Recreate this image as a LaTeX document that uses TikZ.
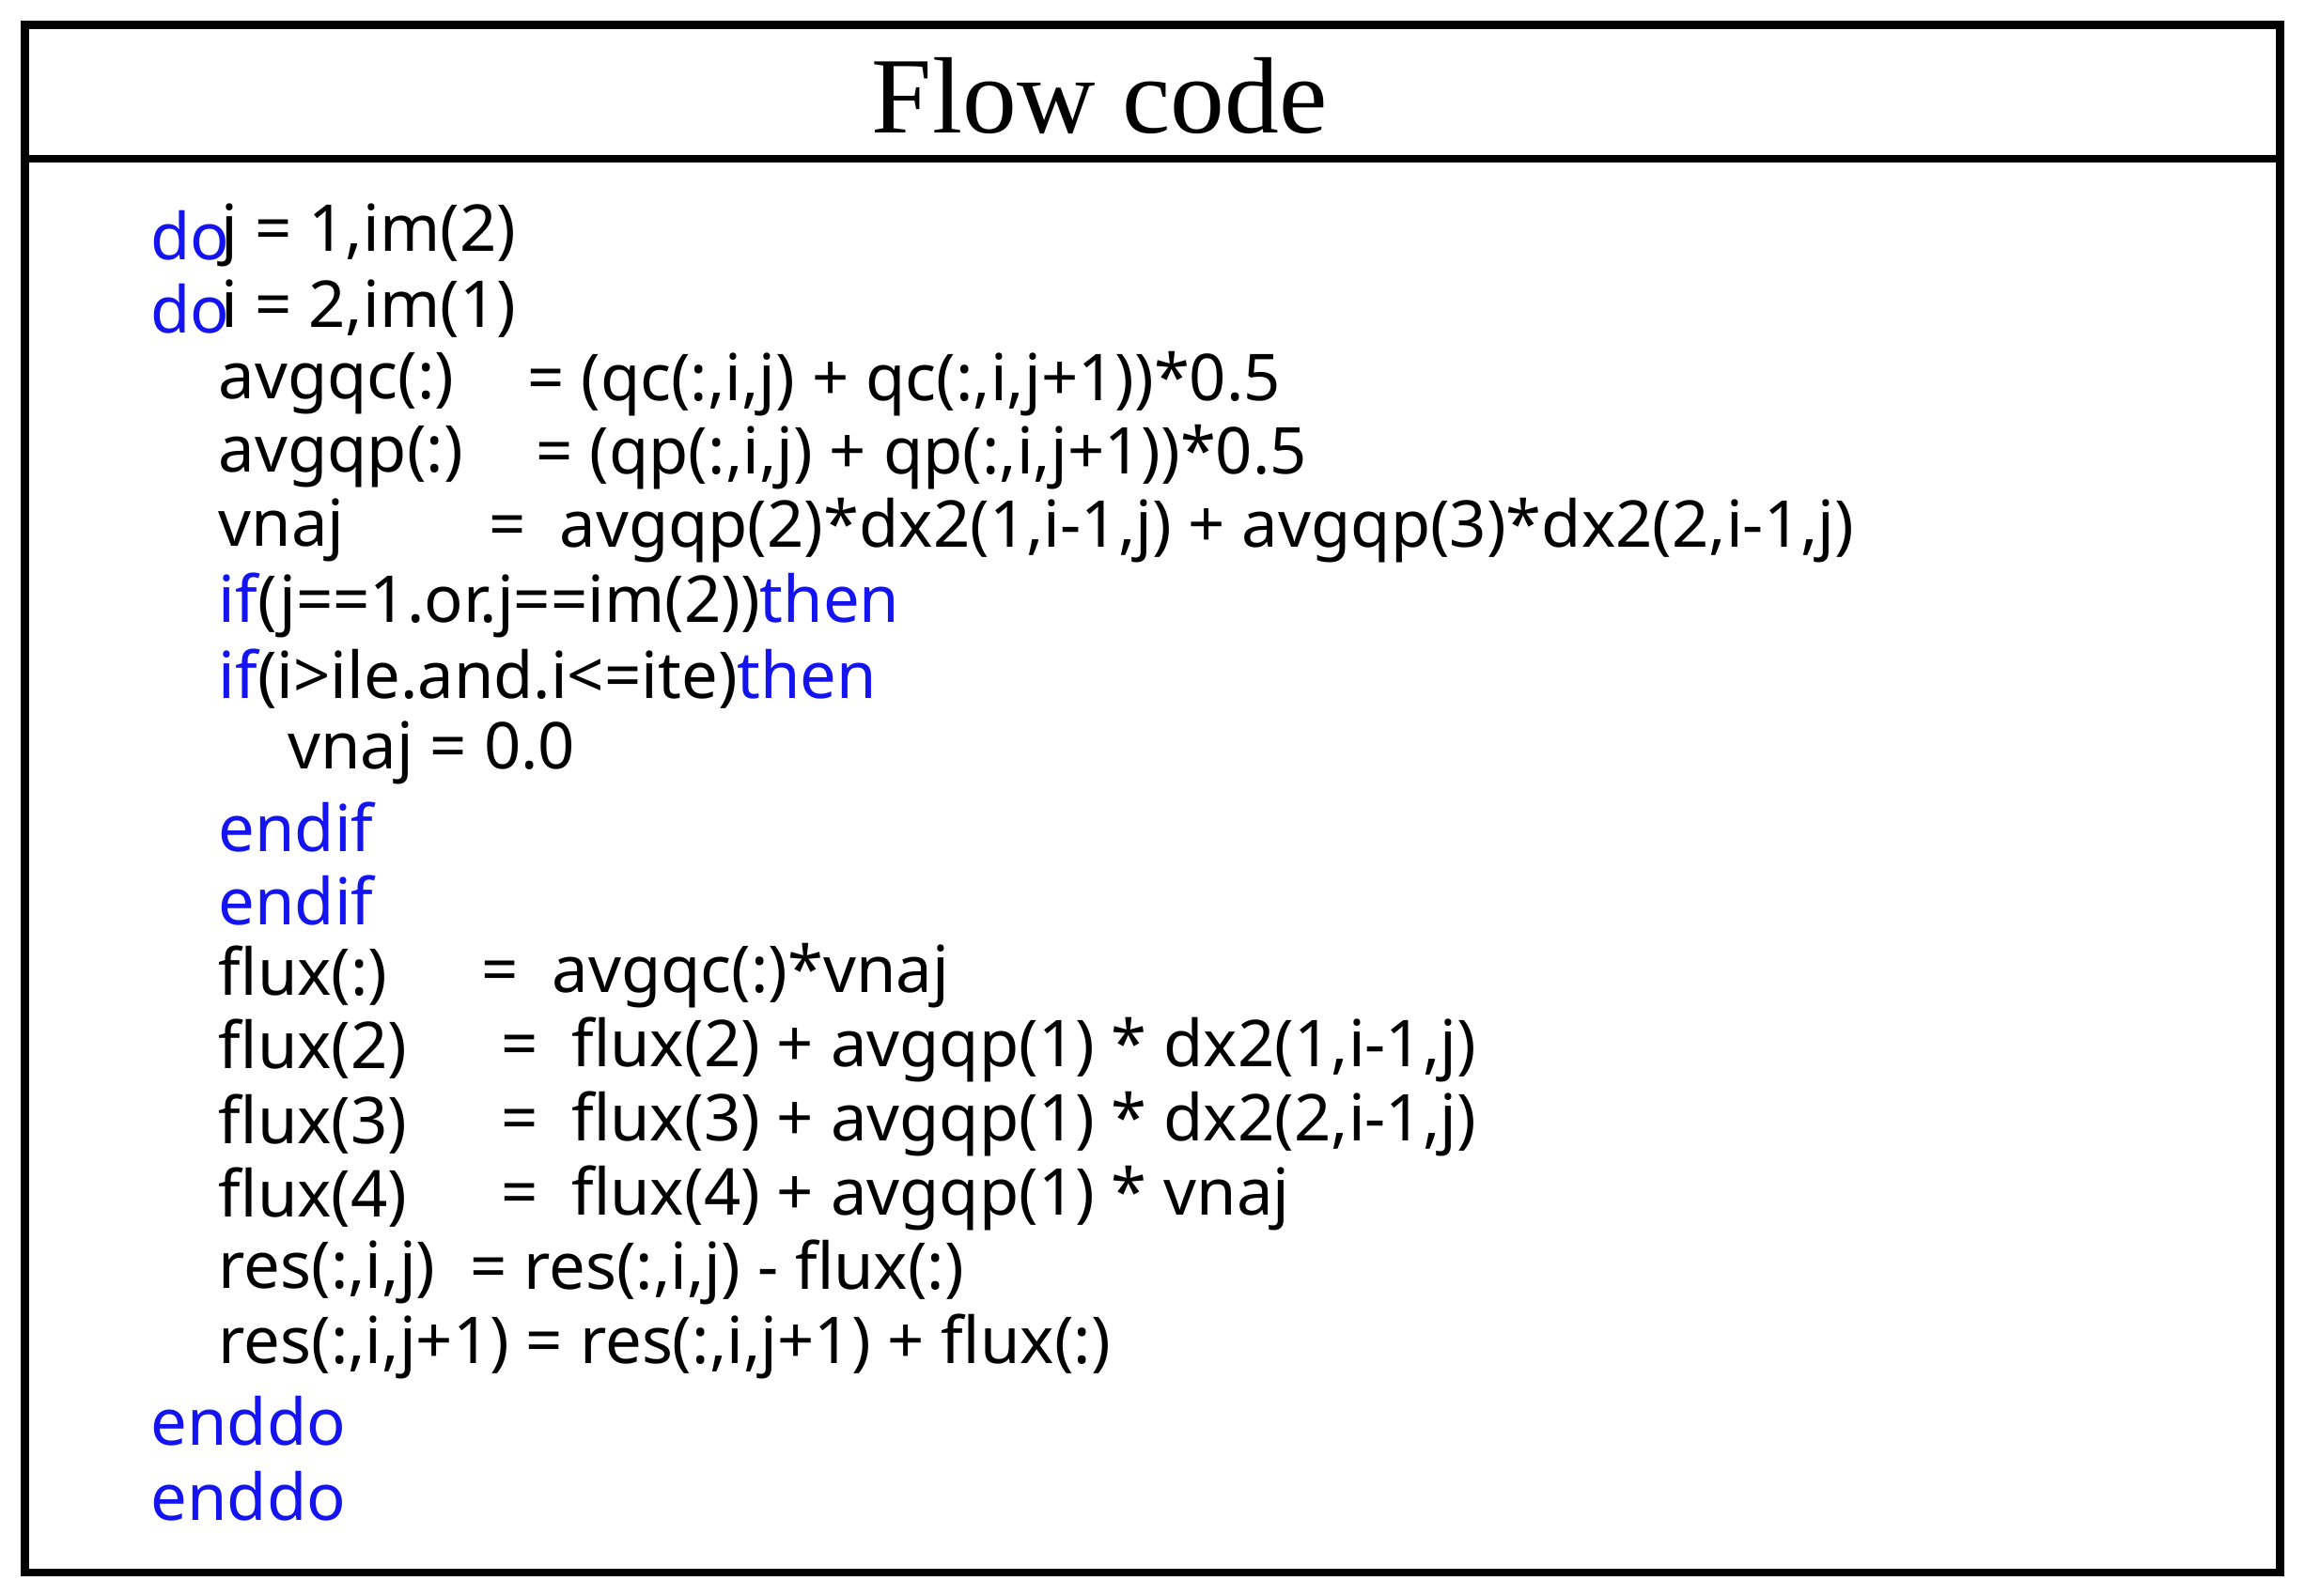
\documentclass[tikz,border=0pt]{standalone}
\usepackage{fontspec}
\setmainfont{Noto Sans}
\newfontfamily\titlefont{Liberation Serif}
\definecolor{kwblue}{RGB}{20,20,240}

\begin{document}
\begin{tikzpicture}[x=0.01cm,y=-0.01cm,
  code/.style={anchor=west,inner sep=0pt,font=\fontsize{12.5}{14}\selectfont},
  kw/.style={code,text=kwblue}]
\useasboundingbox (0,0) rectangle (1568,1086);
\draw[line width=1.6pt] (17,17) rectangle (1551,1070);
\draw[line width=1.6pt] (17,108)--(1551,108);
\node[font=\titlefont\fontsize{21}{24}\selectfont] (title) at (748,65) {Flow code};

\node[kw] (do1) at (102,160) {do};
\node[code] (l1) at (150,160) {j = 1,im(2)};
\node[kw] (do2) at (102,210) {do};
\node[code] (l2) at (150,210) {i = 2,im(1)};
\node[code] (l3a) at (148,261) {avgqc(:)};
\node[code] (l3b) at (358,261) {= (qc(:,i,j) + qc(:,i,j+1))*0.5};
\node[code] (l4a) at (148,311) {avgqp(:)};
\node[code] (l4b) at (364,311) {= (qp(:,i,j) + qp(:,i,j+1))*0.5};
\node[code] (l5a) at (148,361) {vnaj};
\node[code] (l5b) at (332,361) {=\ \ avgqp(2)*dx2(1,i-1,j) + avgqp(3)*dx2(2,i-1,j)};
\node[code] (l6) at (148,412) {\textcolor{kwblue}{if}(j==1.or.j==im(2))\textcolor{kwblue}{then}};
\node[code] (l7) at (148,462) {\textcolor{kwblue}{if}(i>ile.and.i<=ite)\textcolor{kwblue}{then}};
\node[code] (l8) at (195,512) {vnaj = 0.0};
\node[kw] (l9) at (148,563) {endif};
\node[kw] (l10) at (148,613) {endif};
\node[code] (l11a) at (148,664) {flux(:)};
\node[code] (l11b) at (327,664) {=\ \ avgqc(:)*vnaj};
\node[code] (l12a) at (148,714) {flux(2)};
\node[code] (l12b) at (340,714) {=\ \ flux(2) + avgqp(1) * dx2(1,i-1,j)};
\node[code] (l13a) at (148,765) {flux(3)};
\node[code] (l13b) at (340,765) {=\ \ flux(3) + avgqp(1) * dx2(2,i-1,j)};
\node[code] (l14a) at (148,815) {flux(4)};
\node[code] (l14b) at (340,815) {=\ \ flux(4) + avgqp(1) * vnaj};
\node[code] (l15a) at (148,866) {res(:,i,j)};
\node[code] (l15b) at (319,866) {= res(:,i,j) - flux(:)};
\node[code] (l16) at (148,916) {res(:,i,j+1) = res(:,i,j+1) + flux(:)};
\node[kw] (l17) at (102,967) {enddo};
\node[kw] (l18) at (102,1018) {enddo};
\end{tikzpicture}
\end{document}
